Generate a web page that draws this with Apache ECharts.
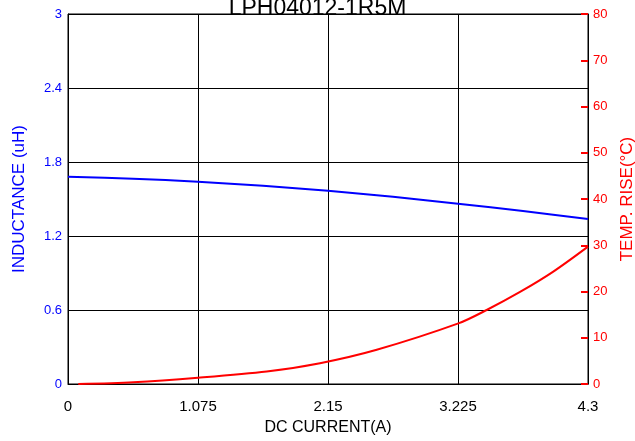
<!DOCTYPE html>
<html><head><meta charset="utf-8">
<script src="https://cdn.jsdelivr.net/npm/echarts@6/dist/echarts.min.js"></script>
<style>html,body{margin:0;padding:0;background:#fff}#c{width:635px;height:441px}</style>
</head><body><div id="c"></div>
<script>
const titleText = 'LPH04012-1R5M';
const xTicks = [0, 1.075, 2.15, 3.225, 4.3];
const indX = [0, 0.5375, 1.075, 1.6125, 2.15, 2.6875, 3.225, 3.7625, 4.3];
const indY = [1.681, 1.665, 1.640, 1.607, 1.567, 1.518, 1.462, 1.403, 1.338];
const tempX = [0.085, 0.54, 1.075, 1.643, 2.084, 2.553, 3.228, 3.462, 3.738, 4.013, 4.3];
const tempY = [0, 0.4, 1.36, 2.7, 4.5, 7.4, 13.1, 16.0, 19.9, 24.3, 29.7];

const font = '"Liberation Sans", Arial, sans-serif';
const chart = echarts.init(document.getElementById('c'), null, {renderer: 'canvas'});
chart.setOption({
  animation: false,
  textStyle: {fontFamily: font},
  title: {text: titleText, left: 'center', top: -8,
    textStyle: {fontSize: 23, fontWeight: 'normal', color: '#000', fontFamily: font}},
  grid: {left: 68, right: 47, top: 14, bottom: 57, show: true, borderColor: '#000', borderWidth: 1, outerBoundsMode: 'none', containLabel: false},
  xAxis: {type: 'value', min: 0, max: 4.3, interval: 1.075,
    name: 'DC CURRENT(A)', nameLocation: 'middle', nameGap: 36,
    nameTextStyle: {fontSize: 16, color: '#000', fontFamily: font},
    axisLine: {lineStyle: {color: '#000'}},
    axisTick: {show: false},
    axisLabel: {fontSize: 15, color: '#000', margin: 15, formatter: v => String(+v.toFixed(3))},
    splitLine: {lineStyle: {color: '#000', width: 1}}},
  yAxis: [
    {type: 'value', min: 0, max: 3, interval: 0.6, position: 'left',
      name: 'INDUCTANCE (uH)', nameLocation: 'middle', nameGap: 40,
      nameTextStyle: {fontSize: 17, color: '#0000ff', fontFamily: font},
      axisLine: {show: true, lineStyle: {color: '#000'}},
      axisTick: {show: false},
      axisLabel: {fontSize: 13, color: '#0000ff', margin: 6, formatter: v => String(+v.toFixed(1))},
      splitLine: {lineStyle: {color: '#000', width: 1}}},
    {type: 'value', min: 0, max: 80, interval: 10, position: 'right',
      name: 'TEMP. RISE(°C)', nameLocation: 'middle', nameGap: 30, nameRotate: 90,
      nameTextStyle: {fontSize: 17, color: '#ff0000', fontFamily: font},
      axisLine: {show: true, lineStyle: {color: '#000'}},
      axisTick: {show: true, inside: true, length: 7, lineStyle: {color: '#ff0000', width: 2}},
      axisLabel: {fontSize: 13, color: '#ff0000', margin: 5},
      splitLine: {show: false}}
  ],
  series: [
    {type: 'line', yAxisIndex: 0, smooth: 0.3, showSymbol: false,
      lineStyle: {color: '#0000ff', width: 2},
      data: indX.map((x, i) => [x, indY[i]])},
    {type: 'line', yAxisIndex: 1, smooth: 0.3, showSymbol: false,
      lineStyle: {color: '#ff0000', width: 2},
      data: tempX.map((x, i) => [x, tempY[i]])}
  ]
});
</script></body></html>
